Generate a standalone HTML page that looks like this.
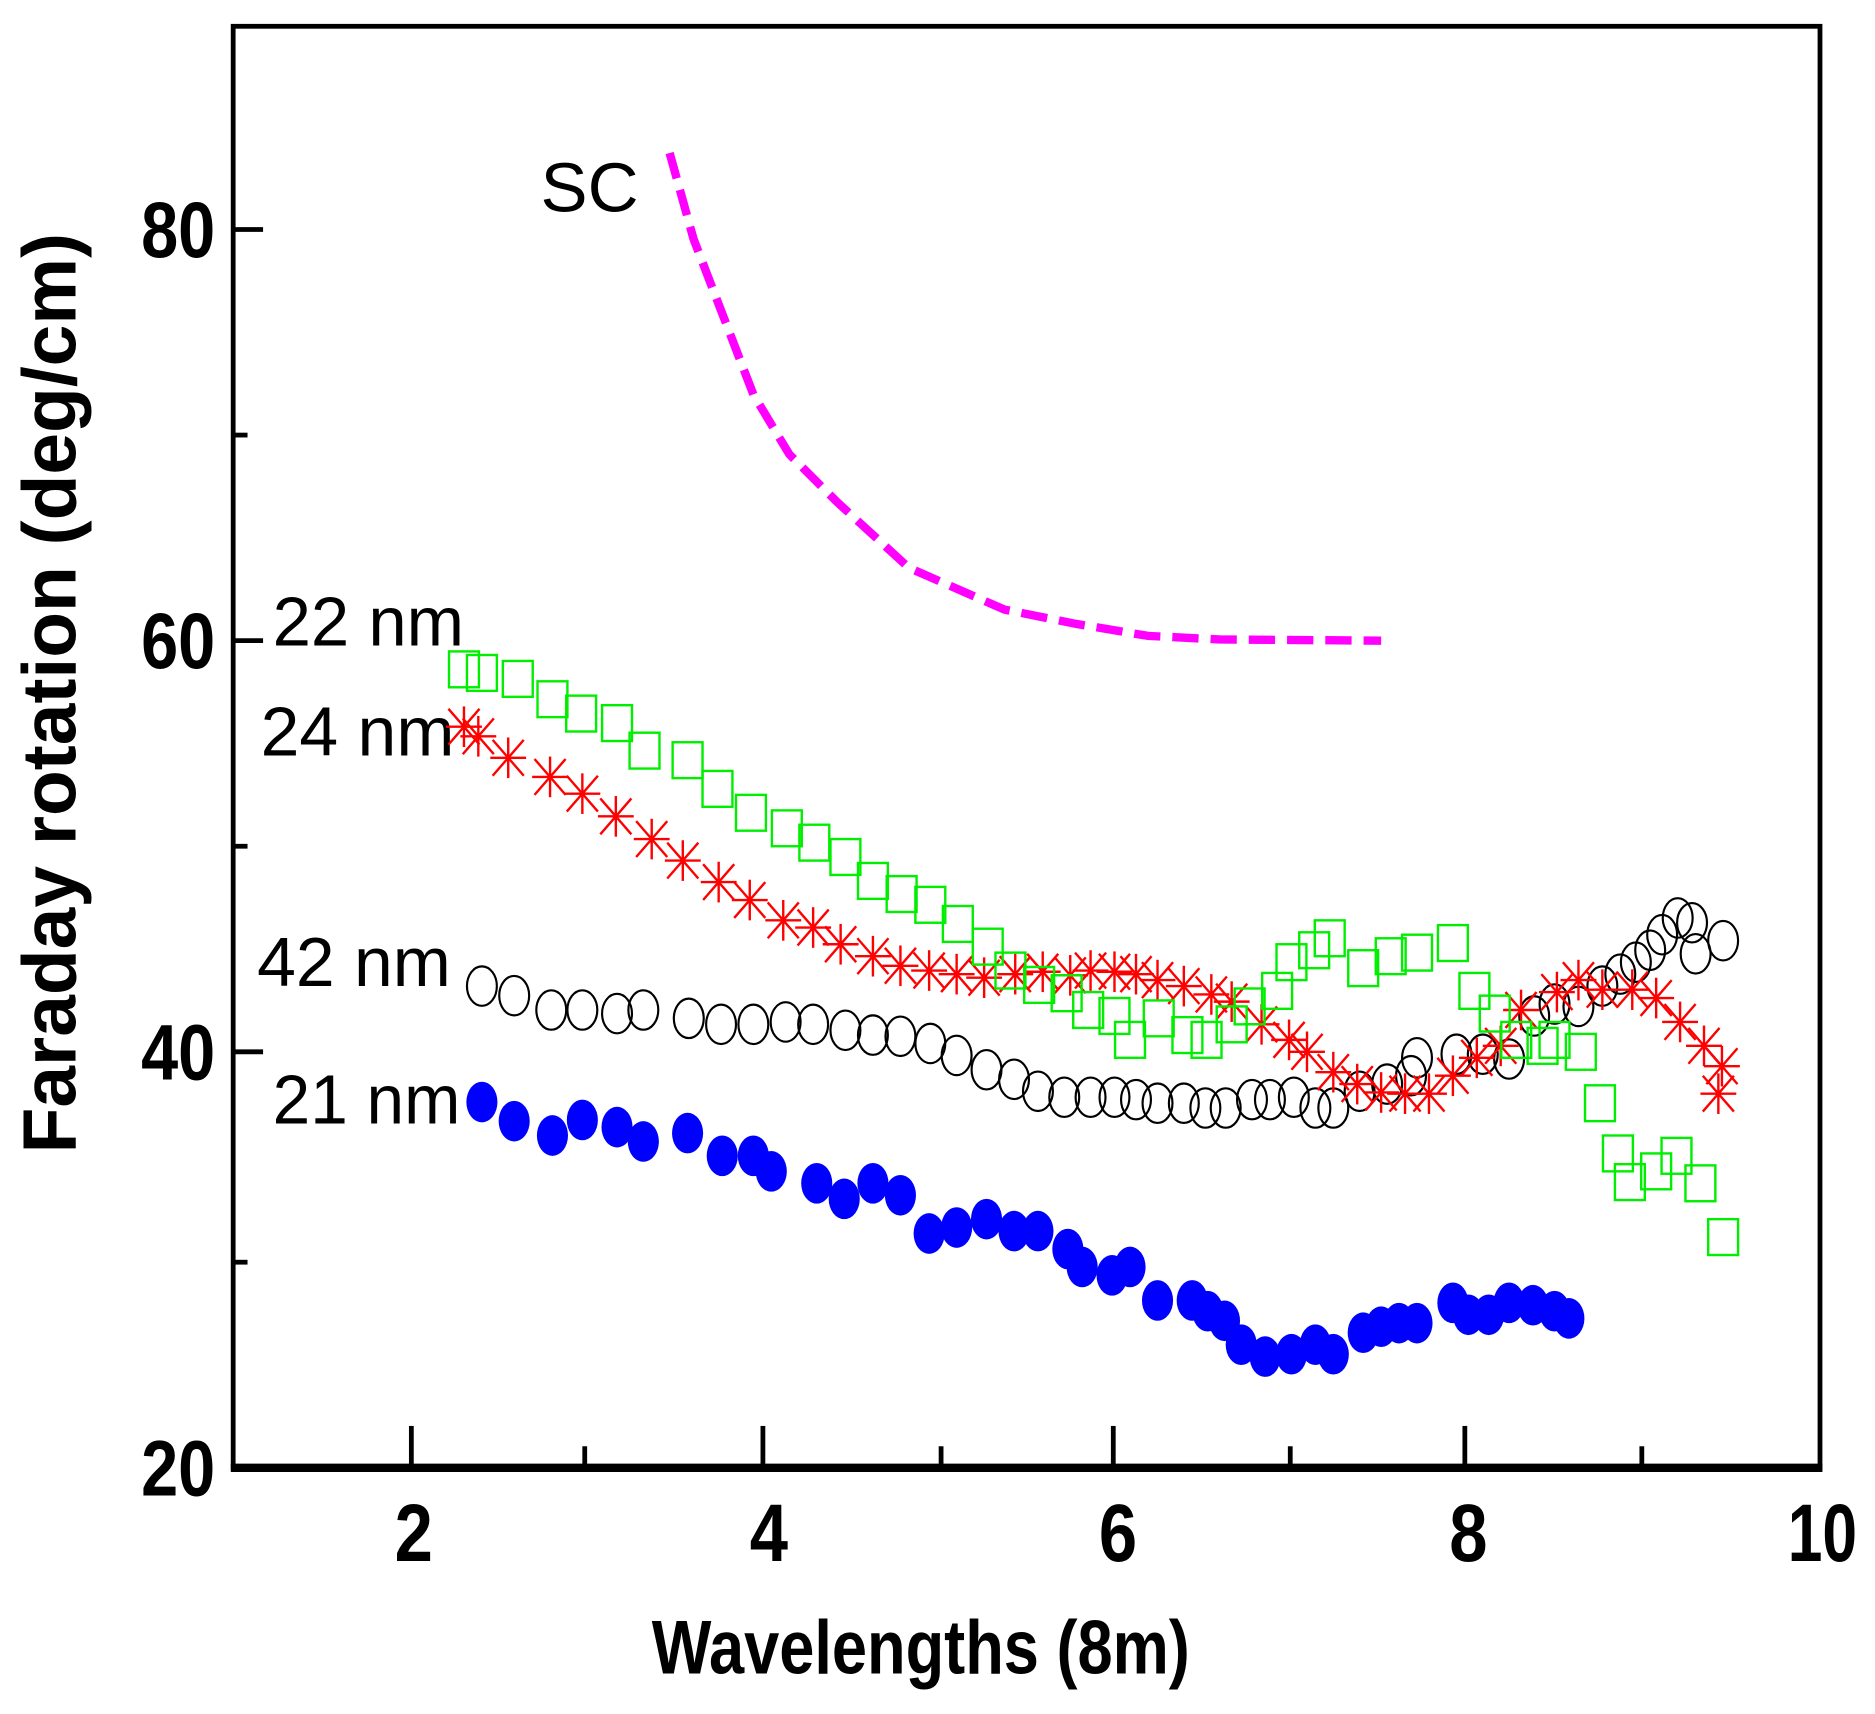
<!DOCTYPE html>
<html><head><meta charset="utf-8"><style>
html,body{margin:0;padding:0;background:#fff;}
svg{display:block;}
text{font-family:"Liberation Sans",Arial,sans-serif;}
</style></head><body>
<svg width="1875" height="1714" viewBox="0 0 1568 1434" preserveAspectRatio="none" xmlns="http://www.w3.org/2000/svg">
<defs>
<rect id="sq" x="-12.5" y="-15" width="25" height="30" fill="none" stroke="#00ee00" stroke-width="2"/>
<g id="as" stroke="#ff0000" stroke-width="2"><line x1="-15" y1="0" x2="15" y2="0"/><line x1="0" y1="-17" x2="0" y2="17"/><line x1="-13" y1="-15" x2="13" y2="15"/><line x1="-13" y1="15" x2="13" y2="-15"/></g>
<ellipse id="ci" rx="12.5" ry="16.5" fill="none" stroke="#000" stroke-width="1.8"/>
<ellipse id="bl" rx="13" ry="17" fill="#0000ff"/>
</defs>
<rect width="1568" height="1434" fill="#fff"/>
<rect x="195" y="22" width="1327" height="1206" fill="none" stroke="#000" stroke-width="4"/>
<line x1="193" y1="1228" x2="1524" y2="1228" stroke="#000" stroke-width="7"/>
<g stroke="#000" stroke-width="4">
<line x1="195" y1="192" x2="220" y2="192"/><line x1="195" y1="536" x2="220" y2="536"/><line x1="195" y1="880" x2="220" y2="880"/>
<line x1="195" y1="364" x2="207" y2="364"/><line x1="195" y1="708" x2="207" y2="708"/><line x1="195" y1="1056" x2="207" y2="1056"/>
<line x1="344" y1="1228" x2="344" y2="1193"/><line x1="638" y1="1228" x2="638" y2="1193"/><line x1="931" y1="1228" x2="931" y2="1193"/><line x1="1225" y1="1228" x2="1225" y2="1193"/>
<line x1="489" y1="1228" x2="489" y2="1210"/><line x1="787" y1="1228" x2="787" y2="1210"/><line x1="1079" y1="1228" x2="1079" y2="1210"/><line x1="1373" y1="1228" x2="1373" y2="1210"/>
</g>
<g font-weight="bold" font-size="66" text-anchor="end">
<text x="180" y="215" textLength="62" lengthAdjust="spacingAndGlyphs">80</text>
<text x="180" y="559" textLength="62" lengthAdjust="spacingAndGlyphs">60</text>
<text x="180" y="903" textLength="62" lengthAdjust="spacingAndGlyphs">40</text>
<text x="180" y="1251" textLength="62" lengthAdjust="spacingAndGlyphs">20</text>
</g>
<g font-weight="bold" font-size="68" text-anchor="middle">
<text x="346" y="1306" textLength="32" lengthAdjust="spacingAndGlyphs">2</text><text x="643" y="1306" textLength="32" lengthAdjust="spacingAndGlyphs">4</text><text x="935" y="1306" textLength="32" lengthAdjust="spacingAndGlyphs">6</text><text x="1228" y="1306" textLength="32" lengthAdjust="spacingAndGlyphs">8</text>
<text x="1524" y="1306" textLength="58" lengthAdjust="spacingAndGlyphs">10</text>
</g>
<text x="545" y="1400" font-weight="bold" font-size="64" textLength="450" lengthAdjust="spacingAndGlyphs">Wavelengths (8m)</text>
<text transform="translate(63,965) rotate(-90)" font-weight="bold" font-size="64" textLength="770" lengthAdjust="spacingAndGlyphs">Faraday rotation (deg/cm)</text>
<g font-size="58">
<text x="452" y="177" textLength="82" lengthAdjust="spacingAndGlyphs">SC</text>
<text x="228" y="540" textLength="160" lengthAdjust="spacingAndGlyphs">22 nm</text>
<text x="218" y="632" textLength="162" lengthAdjust="spacingAndGlyphs">24 nm</text>
<text x="215" y="825" textLength="162" lengthAdjust="spacingAndGlyphs">42 nm</text>
<text x="228" y="940" textLength="157" lengthAdjust="spacingAndGlyphs">21 nm</text>
</g>
<polyline points="560,128 580,200 605,265 630,330 660,380 700,420 760,475 840,510 900,522 960,532 1020,535 1155,536" fill="none" stroke="#ff00ff" stroke-width="7" stroke-dasharray="22,10"/>
<g>
<use href="#bl" x="403" y="922"/><use href="#bl" x="430" y="938"/><use href="#bl" x="462" y="950"/><use href="#bl" x="487" y="937"/><use href="#bl" x="516" y="943"/><use href="#bl" x="538" y="955"/><use href="#bl" x="575" y="948"/><use href="#bl" x="604" y="967"/><use href="#bl" x="630" y="967"/><use href="#bl" x="645" y="980"/><use href="#bl" x="683" y="990"/><use href="#bl" x="706" y="1003"/><use href="#bl" x="730" y="990"/><use href="#bl" x="753" y="1000"/><use href="#bl" x="777" y="1032"/><use href="#bl" x="800" y="1027"/><use href="#bl" x="825" y="1020"/><use href="#bl" x="848" y="1030"/><use href="#bl" x="868" y="1030"/><use href="#bl" x="893" y="1045"/><use href="#bl" x="905" y="1060"/><use href="#bl" x="930" y="1067"/><use href="#bl" x="945" y="1060"/><use href="#bl" x="968" y="1088"/><use href="#bl" x="997" y="1088"/><use href="#bl" x="1010" y="1097"/><use href="#bl" x="1024" y="1105"/><use href="#bl" x="1038" y="1125"/><use href="#bl" x="1058" y="1135"/><use href="#bl" x="1080" y="1133"/><use href="#bl" x="1100" y="1125"/><use href="#bl" x="1115" y="1133"/><use href="#bl" x="1140" y="1115"/><use href="#bl" x="1155" y="1110"/><use href="#bl" x="1170" y="1107"/><use href="#bl" x="1185" y="1107"/><use href="#bl" x="1215" y="1090"/><use href="#bl" x="1228" y="1100"/><use href="#bl" x="1245" y="1100"/><use href="#bl" x="1262" y="1090"/><use href="#bl" x="1282" y="1092"/><use href="#bl" x="1300" y="1097"/><use href="#bl" x="1312" y="1103"/>
</g>
<g>
<use href="#ci" x="403" y="825"/><use href="#ci" x="430" y="833"/><use href="#ci" x="461" y="845"/><use href="#ci" x="487" y="845"/><use href="#ci" x="516" y="848"/><use href="#ci" x="538" y="845"/><use href="#ci" x="576" y="852"/><use href="#ci" x="603" y="857"/><use href="#ci" x="630" y="857"/><use href="#ci" x="657" y="855"/><use href="#ci" x="680" y="857"/><use href="#ci" x="707" y="862"/><use href="#ci" x="730" y="866"/><use href="#ci" x="753" y="867"/><use href="#ci" x="778" y="873"/><use href="#ci" x="800" y="883"/><use href="#ci" x="825" y="895"/><use href="#ci" x="848" y="903"/><use href="#ci" x="868" y="913"/><use href="#ci" x="890" y="918"/><use href="#ci" x="912" y="918"/><use href="#ci" x="932" y="918"/><use href="#ci" x="950" y="920"/><use href="#ci" x="968" y="923"/><use href="#ci" x="990" y="923"/><use href="#ci" x="1008" y="927"/><use href="#ci" x="1025" y="927"/><use href="#ci" x="1047" y="920"/><use href="#ci" x="1062" y="920"/><use href="#ci" x="1082" y="918"/><use href="#ci" x="1100" y="927"/><use href="#ci" x="1115" y="927"/><use href="#ci" x="1137" y="913"/><use href="#ci" x="1160" y="907"/><use href="#ci" x="1180" y="900"/><use href="#ci" x="1185" y="885"/><use href="#ci" x="1218" y="882"/><use href="#ci" x="1240" y="882"/><use href="#ci" x="1262" y="886"/><use href="#ci" x="1283" y="850"/><use href="#ci" x="1300" y="840"/><use href="#ci" x="1320" y="842"/><use href="#ci" x="1340" y="825"/><use href="#ci" x="1355" y="815"/><use href="#ci" x="1368" y="805"/><use href="#ci" x="1380" y="795"/><use href="#ci" x="1390" y="782"/><use href="#ci" x="1403" y="768"/><use href="#ci" x="1415" y="772"/><use href="#ci" x="1418" y="798"/><use href="#ci" x="1441" y="787"/>
</g>
<g>
<use href="#as" x="388" y="608"/><use href="#as" x="400" y="616"/><use href="#as" x="425" y="634"/><use href="#as" x="460" y="650"/><use href="#as" x="487" y="664"/><use href="#as" x="515" y="683"/><use href="#as" x="545" y="702"/><use href="#as" x="571" y="720"/><use href="#as" x="601" y="738"/><use href="#as" x="627" y="753"/><use href="#as" x="655" y="770"/><use href="#as" x="680" y="776"/><use href="#as" x="703" y="790"/><use href="#as" x="730" y="800"/><use href="#as" x="753" y="808"/><use href="#as" x="777" y="812"/><use href="#as" x="800" y="815"/><use href="#as" x="823" y="818"/><use href="#as" x="849" y="815"/><use href="#as" x="872" y="813"/><use href="#as" x="895" y="816"/><use href="#as" x="912" y="812"/><use href="#as" x="932" y="813"/><use href="#as" x="950" y="815"/><use href="#as" x="968" y="820"/><use href="#as" x="990" y="825"/><use href="#as" x="1013" y="832"/><use href="#as" x="1030" y="838"/><use href="#as" x="1055" y="857"/><use href="#as" x="1078" y="870"/><use href="#as" x="1093" y="880"/><use href="#as" x="1115" y="897"/><use href="#as" x="1135" y="907"/><use href="#as" x="1155" y="914"/><use href="#as" x="1175" y="915"/><use href="#as" x="1195" y="915"/><use href="#as" x="1215" y="900"/><use href="#as" x="1235" y="885"/><use href="#as" x="1255" y="875"/><use href="#as" x="1272" y="845"/><use href="#as" x="1302" y="830"/><use href="#as" x="1320" y="820"/><use href="#as" x="1340" y="828"/><use href="#as" x="1365" y="828"/><use href="#as" x="1385" y="835"/><use href="#as" x="1405" y="855"/><use href="#as" x="1425" y="875"/><use href="#as" x="1440" y="892"/><use href="#as" x="1437" y="915"/>
</g>
<g>
<use href="#sq" x="388" y="560"/><use href="#sq" x="403" y="563"/><use href="#sq" x="433" y="568"/><use href="#sq" x="462" y="585"/><use href="#sq" x="486" y="597"/><use href="#sq" x="516" y="605"/><use href="#sq" x="539" y="628"/><use href="#sq" x="575" y="636"/><use href="#sq" x="600" y="660"/><use href="#sq" x="628" y="680"/><use href="#sq" x="658" y="693"/><use href="#sq" x="681" y="705"/><use href="#sq" x="707" y="717"/><use href="#sq" x="730" y="737"/><use href="#sq" x="754" y="748"/><use href="#sq" x="778" y="757"/><use href="#sq" x="801" y="773"/><use href="#sq" x="826" y="792"/><use href="#sq" x="845" y="812"/><use href="#sq" x="869" y="824"/><use href="#sq" x="892" y="831"/><use href="#sq" x="910" y="845"/><use href="#sq" x="932" y="850"/><use href="#sq" x="945" y="870"/><use href="#sq" x="969" y="852"/><use href="#sq" x="993" y="866"/><use href="#sq" x="1009" y="870"/><use href="#sq" x="1030" y="857"/><use href="#sq" x="1045" y="842"/><use href="#sq" x="1068" y="829"/><use href="#sq" x="1080" y="805"/><use href="#sq" x="1099" y="795"/><use href="#sq" x="1112" y="785"/><use href="#sq" x="1140" y="810"/><use href="#sq" x="1163" y="800"/><use href="#sq" x="1185" y="797"/><use href="#sq" x="1215" y="789"/><use href="#sq" x="1233" y="829"/><use href="#sq" x="1250" y="848"/><use href="#sq" x="1268" y="870"/><use href="#sq" x="1290" y="875"/><use href="#sq" x="1300" y="870"/><use href="#sq" x="1322" y="880"/><use href="#sq" x="1338" y="923"/><use href="#sq" x="1353" y="965"/><use href="#sq" x="1363" y="989"/><use href="#sq" x="1385" y="980"/><use href="#sq" x="1402" y="967"/><use href="#sq" x="1422" y="990"/><use href="#sq" x="1441" y="1035"/>
</g>
</svg>
</body></html>
